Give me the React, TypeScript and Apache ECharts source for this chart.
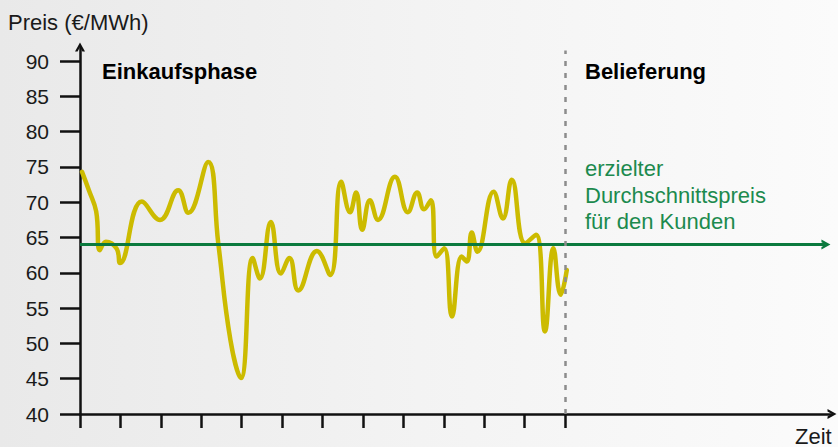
import React, { useEffect, useRef } from 'react';
import * as echarts from 'echarts';

// Time axis (arbitrary units, ticks 0..12, delivery starts at 12)
const xTicks = [0, 1, 2, 3, 4, 5, 6, 7, 8, 9, 10, 11, 12];
const yTicks = [40, 45, 50, 55, 60, 65, 70, 75, 80, 85, 90];

const timePoints = [
  0.05, 0.22, 0.4, 0.49, 0.64, 0.91, 0.99, 1.53, 1.98, 2.43, 2.68, 3.17, 3.42, 3.72, 3.98,
  4.27, 4.45, 4.72, 4.97, 5.18, 5.4, 5.86, 6.19, 6.46, 6.68, 6.83, 6.98, 7.17, 7.37, 7.79,
  8.11, 8.34, 8.51, 8.68, 8.82, 9.01, 9.2, 9.44, 9.57, 9.69, 9.83, 10.23, 10.46, 10.68, 11.01,
  11.28, 11.5, 11.71, 11.89, 12.04,
];
const prices = [
  74.3, 71.7, 68.7, 63.2, 64.4, 63.4, 61.4, 70.1, 67.5, 71.7, 68.5, 75.7, 64.2, 50.5, 45.1,
  62.1, 59.2, 67.2, 59.9, 62.1, 57.5, 63.1, 59.7, 72.9, 68.6, 71.4, 66.1, 70.3, 67.5, 73.6,
  68.6, 71.4, 69.0, 70.3, 62.3, 63.5, 53.8, 62.3, 61.6, 65.7, 63.0, 71.5, 67.7, 73.2, 64.2,
  65.4, 51.7, 63.5, 56.9, 60.4,
];

const averagePrice = 64;
const deliveryStart = 12;
const xMax = 18.6;
const averageLineEnd = 18.45;
const yMin = 40;
const yMax = 92;

const FONT = '"Liberation Sans", Arial, Helvetica, sans-serif';
const CHEVRON = 'path://M0,9 L5,0 L10,9 L7.4,9 L5,4.6 L2.6,9 Z';

export default function App() {
  const ref = useRef<HTMLDivElement>(null);

  useEffect(() => {
    if (!ref.current) return;
    const chart = echarts.init(ref.current, null, { renderer: 'svg' });
    const priceData = timePoints.map((t, i) => [t, prices[i]]);

    chart.setOption({
      animation: false,
      grid: { left: 80, right: 6, top: 47, bottom: 33, containLabel: false },
      xAxis: {
        type: 'value',
        min: 0,
        max: xMax,
        splitLine: { show: false },
        axisLine: {
          show: true,
          lineStyle: { color: '#111', width: 2.5 },
          symbol: ['none', CHEVRON],
          symbolSize: [10, 9],
        },
        axisTick: {
          show: true,
          customValues: xTicks,
          length: 14,
          lineStyle: { color: '#111', width: 2.5 },
        },
        axisLabel: { show: false },
      },
      yAxis: {
        type: 'value',
        min: yMin,
        max: yMax,
        splitLine: { show: false },
        axisLine: {
          show: true,
          lineStyle: { color: '#111', width: 2.5 },
          symbol: ['none', CHEVRON],
          symbolSize: [10, 9],
        },
        axisTick: {
          show: true,
          customValues: yTicks,
          length: 20,
          lineStyle: { color: '#111', width: 2.5 },
        },
        axisLabel: {
          show: true,
          customValues: yTicks,
          margin: 31,
          fontSize: 21,
          fontFamily: FONT,
          color: '#1a1a1a',
        },
      },
      series: [
        {
          name: 'marker',
          type: 'line',
          data: [],
          silent: true,
          z: 1,
          markLine: {
            silent: true,
            animation: false,
            label: { show: false },
            data: [
              [
                { coord: [0, averagePrice], symbol: 'none' },
                {
                  coord: [averageLineEnd, averagePrice],
                  symbol: CHEVRON,
                  symbolSize: [10, 9],
                },
              ],
              [
                { coord: [deliveryStart, yMin], symbol: 'none' },
                {
                  coord: [deliveryStart, 91.5],
                  symbol: 'none',
                  lineStyle: { color: '#8c8c8c', width: 2.5, type: [5, 7] },
                },
              ],
            ],
            lineStyle: { color: '#0b7a3e', width: 3, type: 'solid' },
          },
        },
        {
          name: 'Preis',
          type: 'line',
          data: priceData,
          smooth: 0.45,
          showSymbol: false,
          z: 3,
          lineStyle: { color: '#ccbb00', width: 4.5, cap: 'round', join: 'round' },
        },
      ],
      graphic: [
        {
          type: 'text',
          x: 8,
          y: 22.5,
          style: {
            text: 'Preis (€/MWh)',
            fontSize: 22,
            fontFamily: FONT,
            fill: '#1a1a1a',
            verticalAlign: 'middle',
          },
        },
        {
          type: 'text',
          x: 102,
          y: 71,
          style: {
            text: 'Einkaufsphase',
            fontSize: 22,
            fontWeight: 'bold',
            fontFamily: FONT,
            fill: '#000',
            verticalAlign: 'middle',
          },
        },
        {
          type: 'text',
          x: 585,
          y: 71,
          style: {
            text: 'Belieferung',
            fontSize: 22,
            fontWeight: 'bold',
            fontFamily: FONT,
            fill: '#000',
            verticalAlign: 'middle',
          },
        },
        {
          type: 'text',
          x: 585,
          y: 195,
          style: {
            text: 'erzielter\nDurchschnittspreis\nfür den Kunden',
            fontSize: 22,
            lineHeight: 26.3,
            fontFamily: FONT,
            fill: '#1c8a4e',
            verticalAlign: 'middle',
          },
        },
        {
          type: 'text',
          x: 795,
          y: 436,
          style: {
            text: 'Zeit',
            fontSize: 22,
            fontFamily: FONT,
            fill: '#1a1a1a',
            verticalAlign: 'middle',
          },
        },
      ],
    });

    return () => chart.dispose();
  }, []);

  return (
    <div
      style={{
        position: 'fixed',
        left: 0,
        top: 0,
        width: 838,
        height: 447,
        background: 'linear-gradient(to right, #e9e9e9 0%, #f3f3f3 50%, #fbfbfb 100%)',
      }}
    >
      <div ref={ref} style={{ width: 838, height: 447 }} />
    </div>
  );
}
